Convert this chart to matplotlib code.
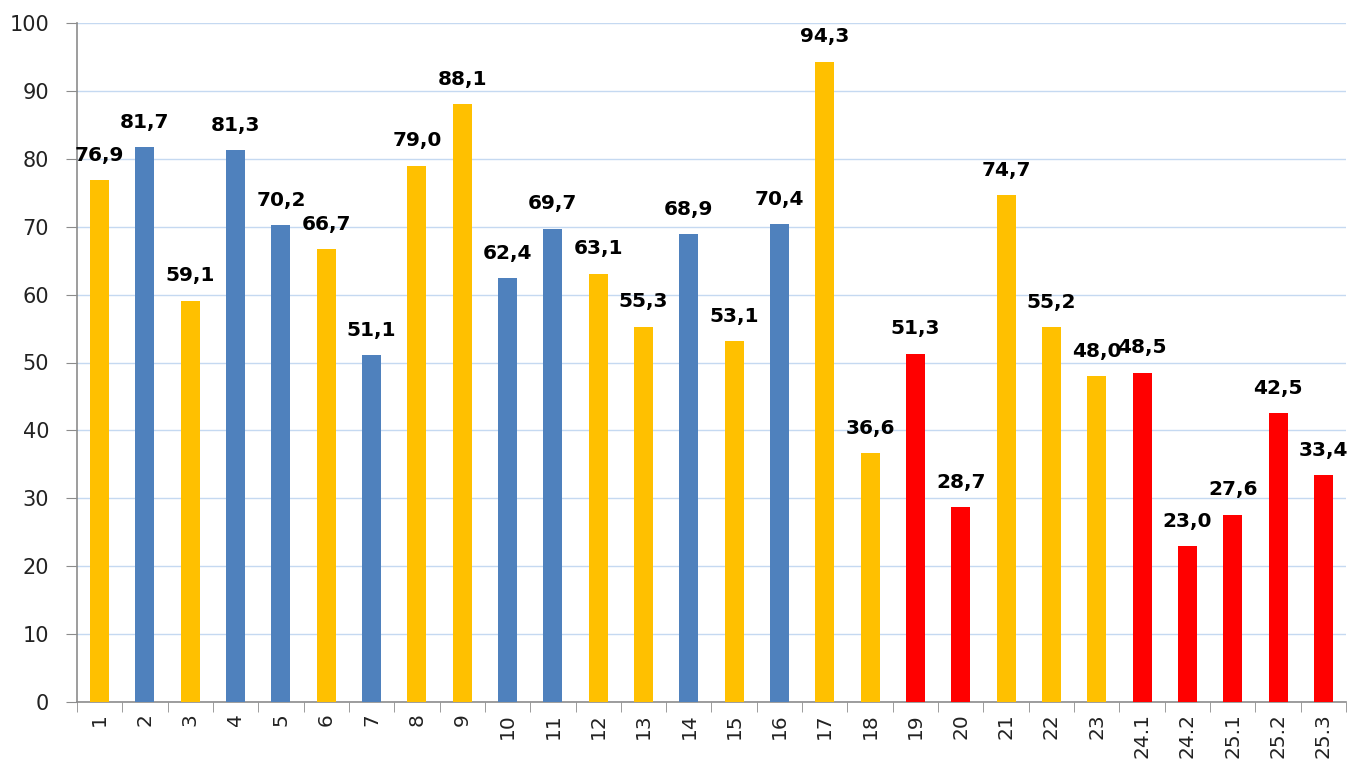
import matplotlib
matplotlib.use("Agg")
import matplotlib.pyplot as plt
import numpy as np

categories = ["1","2","3","4","5","6","7","8","9","10","11","12","13","14","15","16","17","18","19","20","21","22","23","24.1","24.2","25.1","25.2","25.3"]
values = [76.9,81.7,59.1,81.3,70.2,66.7,51.1,79.0,88.1,62.4,69.7,63.1,55.3,68.9,53.1,70.4,94.3,36.6,51.3,28.7,74.7,55.2,48.0,48.5,23.0,27.6,42.5,33.4]
groups = ["o","b","o","b","b","o","b","o","o","b","b","o","o","b","o","b","o","o","r","r","o","o","o","r","r","r","r","r"]
palette = {"o": "#FFC000", "b": "#4F81BD", "r": "#FF0000"}

fig = plt.figure(figsize=(13.5, 7.63), dpi=100)
ax = fig.add_axes([77/1350, 1-702/763, (1346-77)/1350, (702-23)/763])

x = np.arange(len(categories))
colors = [palette[g] for g in groups]
ax.bar(x, values, width=0.42, color=colors, zorder=3)

for xi, v in zip(x, values):
    ax.annotate(f"{v:.1f}".replace(".", ","), (xi, v), xytext=(0, 11), textcoords="offset points",
                ha="center", va="bottom", fontsize=14.5, fontweight="bold", color="black", zorder=4)

ax.set_xlim(-0.5, len(categories) - 0.5)
ax.set_ylim(0, 100)
ax.set_yticks(np.arange(0, 101, 10))
ax.yaxis.grid(True, color="#C5D9F1", linewidth=1, zorder=0)
ax.set_axisbelow(True)

ax.set_xticks(x)
ax.set_xticklabels(categories, rotation=90, fontsize=14.5, color="#222222")
ax.set_xticks(np.arange(-0.5, len(categories), 1), minor=True)
ax.tick_params(axis="x", which="major", length=0, pad=8)
ax.tick_params(axis="x", which="minor", length=7, color="#8C8C8C", direction="out")
ax.tick_params(axis="y", length=8, color="#8C8C8C", labelsize=15, pad=12, labelcolor="#222222")

for s in ["top", "right"]:
    ax.spines[s].set_visible(False)
for s in ["left", "bottom"]:
    ax.spines[s].set_color("#8C8C8C")
    ax.spines[s].set_linewidth(1.2)

fig.savefig("out.png", dpi=100)
